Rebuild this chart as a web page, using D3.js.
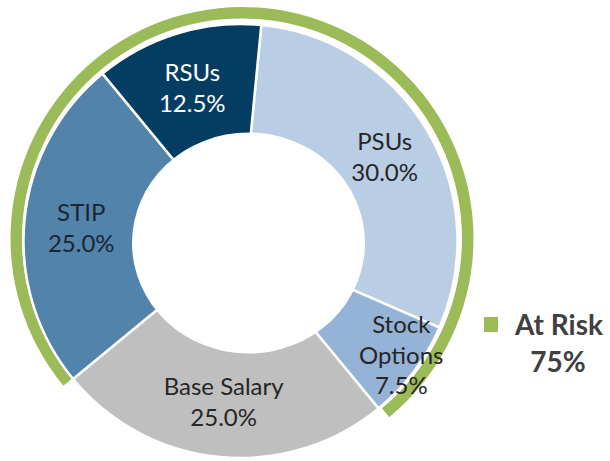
<!DOCTYPE html>
<html>
<head>
<meta charset="utf-8">
<script src="https://cdn.jsdelivr.net/npm/d3@7"></script>
<style>
  body { margin: 0; background: #fff; }
  svg text { font-family: Lato, "Open Sans", sans-serif; }
</style>
</head>
<body>
<svg id="chart" width="610" height="461"></svg>
<script>
// slice data, clockwise from the top
var categories = ["PSUs", "Stock Options", "Base Salary", "STIP", "RSUs"];
var shares = [30.0, 7.5, 25.0, 25.0, 12.5];
var atRisk = ["PSUs", "Stock Options", "STIP", "RSUs"];
var atRiskLabel = ["At Risk", "75%"];

var colors = ["#b9cde5", "#95b3d7", "#bfbfbf", "#5283aa", "#033d61"];
var textColors = ["#262626", "#262626", "#262626", "#1b2633", "#ffffff"];
var green = "#9bbb59";

var svg = d3.select("#chart");
var cx = 240.5, cy = 241;
var outerR = 217;
var offset = 5.5 * Math.PI / 180;

var data = categories.map(function (c, i) { return { name: c, value: shares[i], i: i }; });

var pie = d3.pie()
    .sort(null)
    .value(function (d) { return d.value; })
    .startAngle(offset)
    .endAngle(offset + 2 * Math.PI);

var arcs = pie(data);

// wedges run to the centre, the (slightly oval) hole is cut out afterwards
var arc = d3.arc().innerRadius(0).outerRadius(outerR);
var labelArc = d3.arc().innerRadius(165).outerRadius(165);

// green "at risk" band, spans the at-risk slices
var riskArcs = arcs.filter(function (a) { return atRisk.indexOf(a.data.name) >= 0; });
var bandStart = d3.min(riskArcs.filter(function (a) { return a.startAngle > Math.PI; }), function (a) { return a.startAngle; });
var bandEnd = d3.max(riskArcs.filter(function (a) { return a.endAngle < Math.PI; }), function (a) { return a.endAngle; }) + 2 * Math.PI;

svg.append("path")
    .attr("transform", "translate(" + (cx + 1.5) + "," + (cy - 2.5) + ")")
    .attr("d", d3.arc().innerRadius(220).outerRadius(231.5)({ startAngle: bandStart, endAngle: bandEnd }))
    .attr("fill", green);

var g = svg.append("g").attr("transform", "translate(" + cx + "," + cy + ")");

g.selectAll("path.slice")
    .data(arcs)
    .enter().append("path")
    .attr("class", "slice")
    .attr("d", arc)
    .attr("fill", function (d) { return colors[d.data.i]; })
    .attr("stroke", "#fff")
    .attr("stroke-width", 2.5);

g.append("ellipse")
    .attr("cx", 8).attr("cy", 2)
    .attr("rx", 116.5).attr("ry", 110.5)
    .attr("fill", "#fff");

// label tweaks to match the original placement
var nudge = { "PSUs": [2, 0], "Stock Options": [29, 15], "Base Salary": [-1, -3], "STIP": [5, 3], "RSUs": [0, 5] };

g.selectAll("text.lbl")
    .data(arcs)
    .enter().append("text")
    .attr("class", "lbl")
    .attr("text-anchor", "middle")
    .attr("font-size", 24)
    .attr("fill", function (d) { return textColors[d.data.i]; })
    .each(function (d) {
        var c = labelArc.centroid(d);
        var n = nudge[d.data.name];
        var lines = d.data.name === "Stock Options" ? ["Stock", "Options"] : [d.data.name];
        lines.push(d.data.value.toFixed(1) + "%");
        var lh = 30.5;
        var top = c[1] + n[1] - (lines.length - 1) * lh / 2;
        var t = d3.select(this);
        lines.forEach(function (l, k) {
            t.append("tspan")
                .attr("x", c[0] + n[0])
                .attr("y", top + k * lh)
                .attr("dy", "0.35em")
                .text(l);
        });
    });

// legend
var leg = svg.append("g").attr("transform", "translate(484,317)");
leg.append("rect").attr("width", 14).attr("height", 15).attr("fill", green);
leg.append("text")
    .attr("x", 31).attr("y", 18)
    .attr("font-size", 28).attr("font-weight", "bold").attr("fill", "#404040")
    .text(atRiskLabel[0]);
leg.append("text")
    .attr("x", 74).attr("y", 55)
    .attr("text-anchor", "middle")
    .attr("font-size", 28).attr("font-weight", "bold").attr("fill", "#404040")
    .text(atRiskLabel[1]);
</script>
</body>
</html>
